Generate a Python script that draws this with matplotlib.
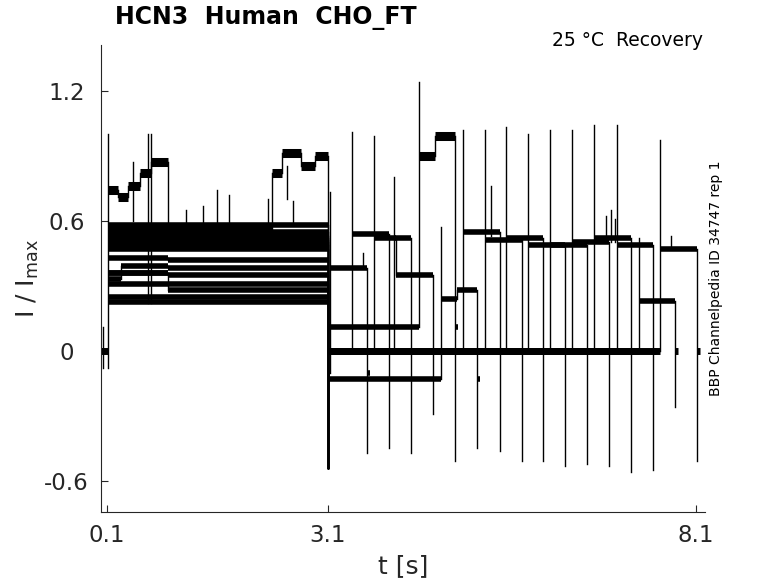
import numpy as np
import matplotlib
matplotlib.use("Agg")
import matplotlib.pyplot as plt

# protocol times / transients
t_pre = 0.02
t_on = 0.11
t_off = 3.10
on_spike = 1.00
off_spike = -0.54
tail_len = 0.04

# first pulse (0.1 - 3.1 s): step levels of each sweep at shared knot times
p1_t = [0.11, 0.25, 0.29, 0.38, 0.55, 0.70, 0.93, 2.34, 2.48, 2.73, 2.93]
p1_lvl = [
    [0.43, 0.43, 0.43, 0.43, 0.43, 0.43, 0.42, 0.42, 0.42, 0.42, 0.42],
    [0.50, 0.50, 0.50, 0.50, 0.50, 0.50, 0.50, 0.50, 0.50, 0.50, 0.50],
    [0.55, 0.55, 0.55, 0.55, 0.55, 0.55, 0.55, 0.55, 0.55, 0.55, 0.55],
    [0.33, 0.33, 0.39, 0.39, 0.39, 0.39, 0.38, 0.38, 0.38, 0.38, 0.38],
    [0.74, 0.71, 0.71, 0.76, 0.82, 0.87, 0.52, 0.52, 0.52, 0.52, 0.52],
    [0.36, 0.36, 0.36, 0.36, 0.36, 0.36, 0.28, 0.28, 0.28, 0.28, 0.28],
    [0.47, 0.47, 0.47, 0.47, 0.47, 0.47, 0.47, 0.47, 0.47, 0.47, 0.47],
    [0.58, 0.58, 0.58, 0.58, 0.58, 0.58, 0.58, 0.58, 0.58, 0.58, 0.58],
    [0.53, 0.53, 0.53, 0.53, 0.53, 0.53, 0.53, 0.53, 0.53, 0.53, 0.53],
    [0.56, 0.56, 0.56, 0.56, 0.56, 0.56, 0.56, 0.82, 0.91, 0.85, 0.90],
    [0.31, 0.31, 0.31, 0.31, 0.31, 0.31, 0.31, 0.31, 0.31, 0.31, 0.31],
    [0.49, 0.49, 0.49, 0.49, 0.49, 0.49, 0.49, 0.49, 0.49, 0.49, 0.49],
    [0.25, 0.25, 0.25, 0.25, 0.25, 0.25, 0.25, 0.25, 0.25, 0.25, 0.25],
    [0.225, 0.225, 0.225, 0.225, 0.225, 0.225, 0.225, 0.225, 0.225, 0.225, 0.225],
    [0.36, 0.36, 0.36, 0.36, 0.36, 0.36, 0.35, 0.35, 0.35, 0.35, 0.35],
    [0.51, 0.51, 0.51, 0.51, 0.51, 0.51, 0.51, 0.51, 0.51, 0.51, 0.51],
]

# recovery part: gap level, test pulse start/end, levels and transients
gap_level = [-0.10, 0.0, 0.0, 0.0, 0.11, -0.13, 0.0, 0.0,
             0.0, 0.0, 0.0, 0.0, 0.0, 0.0, 0.0, 0.0]
test_start = [3.13, 3.43, 3.73, 3.995, 4.33, 4.63, 4.93, 5.23,
              5.52, 5.82, 6.12, 6.42, 6.72, 7.02, 7.32, 7.61]
test_end = [3.63, 3.93, 4.23, 4.53, 4.83, 5.12, 5.43, 5.73,
            6.02, 6.32, 6.62, 6.92, 7.22, 7.52, 7.81, 8.11]
test_level = [0.38, 0.54, 0.52, 0.52, 0.90, 0.24, 0.55, 0.51,
              0.52, 0.49, 0.49, 0.50, 0.52, 0.49, 0.23, 0.47]
step_t = [np.nan, np.nan, np.nan, 4.03, 4.55, 4.85, np.nan, np.nan,
          np.nan, np.nan, np.nan, np.nan, np.nan, np.nan, np.nan, np.nan]
step_lvl = [np.nan, np.nan, np.nan, 0.35, 0.99, 0.28, np.nan, np.nan,
            np.nan, np.nan, np.nan, np.nan, np.nan, np.nan, np.nan, np.nan]
test_up = [0.73, 1.01, 0.99, 0.80, 1.24, 0.57, 1.02, 1.02,
           1.03, 1.00, 1.02, 1.02, 1.04, 1.04, 0.52, 0.97]
test_down = [-0.47, -0.45, -0.47, -0.29, -0.51, -0.45, -0.46, -0.51,
             -0.51, -0.53, -0.52, -0.53, -0.56, -0.55, -0.26, -0.51]

# isolated noise spikes (time, low, high)
glitch_t = [0.04, 0.05, 0.45, 0.65, 0.70, 1.17, 1.40, 1.59, 1.76, 2.29, 2.55, 2.63,
            3.58, 5.32, 6.88, 6.95, 7.00, 7.76]
glitch_lo = [0.0, -0.08, 0.60, 0.22, 0.22, 0.58, 0.58, 0.58, 0.58, 0.58, 0.70, 0.58,
             0.38, 0.53, 0.50, 0.50, 0.50, 0.47]
glitch_hi = [0.11, 0.0, 0.87, 1.00, 1.00, 0.65, 0.67, 0.74, 0.72, 0.70, 0.85, 0.69,
             0.45, 0.76, 0.62, 0.65, 0.61, 0.53]

fig = plt.figure(figsize=(7.78, 5.83), dpi=100)
ax = fig.add_axes([0.1298, 0.1218, 0.7763, 0.801])

k = 'black'
thin = 1.0

def lw_for(v):
    if v > 0.65:
        return 6.5
    if abs(v) < 0.02:
        return 5.0
    return 4.0

def seg(t0, t1, v):
    ax.plot([t0, t1], [v, v], color=k, lw=lw_for(v), solid_capstyle='butt')

def vl(t, a, b):
    ax.plot([t, t], [a, b], color=k, lw=thin)

# holding before the first pulse
seg(t_pre, t_on, 0.0)
vl(t_on, off_spike * 0.15, on_spike)

for i in range(len(p1_lvl)):
    lv = p1_lvl[i]
    # first pulse: merge equal neighbouring knots into one run
    j0 = 0
    for j in range(1, len(p1_t) + 1):
        if j == len(p1_t) or lv[j] != lv[j0]:
            t1 = p1_t[j] if j < len(p1_t) else t_off
            seg(p1_t[j0], t1, lv[j0])
            if j < len(p1_t):
                vl(t1, lv[j0], lv[j])
            j0 = j
    vl(t_off, off_spike, lv[-1])
    # gap
    seg(t_off, test_start[i], gap_level[i])
    # test pulse
    vl(test_start[i], gap_level[i], test_up[i])
    if np.isnan(step_t[i]):
        seg(test_start[i], test_end[i], test_level[i])
        last = test_level[i]
    else:
        seg(test_start[i], step_t[i], test_level[i])
        vl(step_t[i], test_level[i], step_lvl[i])
        seg(step_t[i], test_end[i], step_lvl[i])
        last = step_lvl[i]
    vl(test_end[i], test_down[i], last)
    seg(test_end[i], test_end[i] + tail_len, gap_level[i])

for t, a, b in zip(glitch_t, glitch_lo, glitch_hi):
    vl(t, a, b)

ax.set_xlim(0.018, 8.22)
ax.set_ylim(-0.743, 1.41)
ax.set_xticks([0.1, 3.1, 8.1])
ax.set_xticklabels(['0.1', '3.1', '8.1'])
ax.set_yticks([-0.6, 0, 0.6, 1.2])
ax.set_yticklabels(['-0.6', '0', '0.6', '1.2'])
ax.tick_params(direction='in', length=5, width=0.8, labelsize=16.5,
               colors='#262626')
ax.tick_params(axis='x', pad=9)
ax.tick_params(axis='y', pad=25)
for lbl in ax.get_yticklabels():
    lbl.set_ha('center')
for s in ['top', 'right']:
    ax.spines[s].set_visible(False)
for s in ['left', 'bottom']:
    ax.spines[s].set_color('#262626')
    ax.spines[s].set_linewidth(0.8)

ax.set_xlabel('t [s]', fontsize=18, color='#262626', labelpad=5)
ax.set_ylabel(r'I / I$_{\rm max}$', fontsize=18, color='#262626', labelpad=2)

fig.text(115 / 778, 1 - 18 / 583, 'HCN3  Human  CHO_FT', fontsize=17,
         fontweight='bold', ha='left', va='center')
fig.text(703 / 778, 1 - 41 / 583, '25 °C  Recovery', fontsize=13.5,
         ha='right', va='center')
fig.text(716 / 778, 1 - 278 / 583, 'BBP Channelpedia ID 34747 rep 1',
         fontsize=10, rotation=90, ha='center', va='center')

fig.savefig('out.png', dpi=100)
